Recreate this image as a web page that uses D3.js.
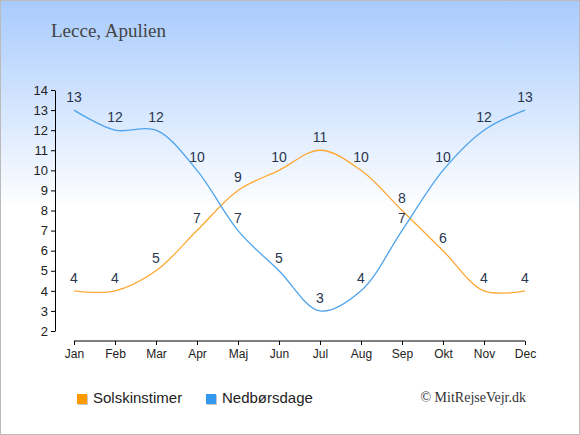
<!DOCTYPE html>
<html>
<head>
<meta charset="utf-8">
<script src="https://cdn.jsdelivr.net/npm/d3@7"></script>
<style>
  html, body { margin: 0; padding: 0; background: #fff; }
  svg { display: block; }
</style>
</head>
<body>
<div id="chart"></div>
<script>
// data
const months = ['Jan', 'Feb', 'Mar', 'Apr', 'Maj', 'Jun', 'Jul', 'Aug', 'Sep', 'Okt', 'Nov', 'Dec'];
const sunHours = [4, 4, 5, 7, 9, 10, 11, 10, 8, 6, 4, 4];
const rainDays = [13, 12, 12, 10, 7, 5, 3, 4, 7, 10, 12, 13];
const yTicks = [2, 3, 4, 5, 6, 7, 8, 9, 10, 11, 12, 13, 14];

const width = 580, height = 435;

const svg = d3.select('#chart').append('svg')
  .attr('width', width)
  .attr('height', height);

const defs = svg.append('defs');
const grad = defs.append('linearGradient')
  .attr('id', 'bg').attr('x1', 0).attr('y1', 0).attr('x2', 0).attr('y2', 1);
grad.append('stop').attr('offset', '0%').attr('stop-color', '#a8cbfd');
grad.append('stop').attr('offset', '48%').attr('stop-color', '#ffffff');
grad.append('stop').attr('offset', '100%').attr('stop-color', '#ffffff');

svg.append('rect')
  .attr('x', 0.5).attr('y', 0.5)
  .attr('width', width - 1).attr('height', height - 1)
  .attr('fill', 'url(#bg)')
  .attr('stroke', '#bbbbbb');

// title
svg.append('text')
  .attr('x', 51).attr('y', 37)
  .attr('font-family', '"Liberation Serif", serif')
  .attr('font-size', 19)
  .attr('fill', '#444')
  .text('Lecce, Apulien');

// scales
const x = d3.scalePoint().domain(months).range([74, 525]);
const y = d3.scaleLinear().domain([2, 14]).range([331, 90]);

// y axis
const yAxis = svg.append('g')
  .attr('transform', 'translate(55,0)')
  .call(d3.axisLeft(y).tickValues(yTicks).tickSize(4).tickSizeOuter(0).tickPadding(3));
yAxis.select('.domain').attr('stroke', '#000');
yAxis.selectAll('text')
  .attr('font-family', '"Liberation Sans", Arial, sans-serif')
  .attr('font-size', 13).attr('fill', '#222');

// x axis
const xAxis = svg.append('g')
  .attr('transform', 'translate(0,341)')
  .call(d3.axisBottom(x).tickSize(4).tickSizeOuter(0).tickPadding(4));
xAxis.select('.domain').attr('d', `M${x('Jan')},0H${x('Dec')}`).attr('stroke', '#000');
xAxis.selectAll('text')
  .attr('font-family', '"Liberation Sans", Arial, sans-serif')
  .attr('font-size', 12).attr('fill', '#222');

// lines
const line = d3.line()
  .x((d, i) => x(months[i]))
  .y(d => y(d))
  .curve(d3.curveCatmullRom.alpha(0.5));

svg.append('path')
  .datum(sunHours)
  .attr('d', line)
  .attr('fill', 'none')
  .attr('stroke', '#ffa733')
  .attr('stroke-width', 1.3);

svg.append('path')
  .datum(rainDays)
  .attr('d', line)
  .attr('fill', 'none')
  .attr('stroke', '#4ea3ec')
  .attr('stroke-width', 1.3);

// value labels
const addLabels = (values) => {
  svg.append('g')
    .selectAll('text')
    .data(values)
    .enter()
    .append('text')
    .attr('x', (d, i) => x(months[i]))
    .attr('y', d => y(d) - 8)
    .attr('text-anchor', 'middle')
    .attr('font-family', '"Liberation Sans", Arial, sans-serif')
    .attr('font-size', 14)
    .attr('fill', '#2b3650')
    .text(d => d);
};
addLabels(sunHours);
addLabels(rainDays);

// legend
const legend = [
  {label: 'Solskinstimer', color: '#ff9900', x: 77},
  {label: 'Nedbørsdage', color: '#3399ee', x: 206}
];
const lg = svg.append('g');
legend.forEach(l => {
  lg.append('rect')
    .attr('x', l.x + 1).attr('y', 395)
    .attr('width', 10).attr('height', 10)
    .attr('fill', '#c8c8c8');
  lg.append('rect')
    .attr('x', l.x).attr('y', 394)
    .attr('width', 10).attr('height', 10)
    .attr('fill', l.color);
  lg.append('text')
    .attr('x', l.x + 16).attr('y', 403)
    .attr('font-family', '"Liberation Sans", Arial, sans-serif')
    .attr('font-size', 15)
    .attr('fill', '#222')
    .text(l.label);
});

svg.append('text')
  .attr('x', 526).attr('y', 402)
  .attr('text-anchor', 'end')
  .attr('font-family', '"Liberation Serif", serif')
  .attr('font-size', 14)
  .attr('fill', '#333')
  .text('© MitRejseVejr.dk');
</script>
</body>
</html>
